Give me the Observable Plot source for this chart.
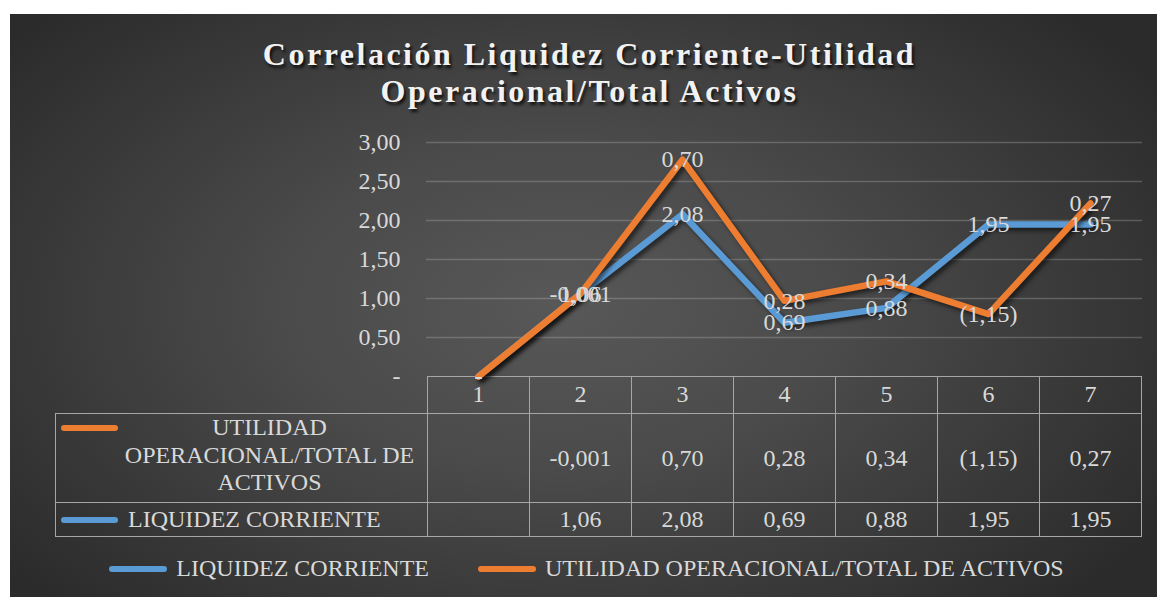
<!DOCTYPE html>
<html><head><meta charset="utf-8">
<script src="https://cdn.jsdelivr.net/npm/d3@7"></script>
<script src="https://cdn.jsdelivr.net/npm/@observablehq/plot@0.6"></script>
<style>
html,body{margin:0;padding:0;background:#fff;}
#card{position:absolute;left:10px;top:14px;width:1147px;height:583px;overflow:hidden;
 background:radial-gradient(ellipse 62% 72% at 48% 50%, #585858 0%, #4a4a4a 40%, #2b2b2b 100%);
 font-family:"Liberation Serif","Times New Roman",serif;color:#d9d9d9;}
#title{position:absolute;left:0;top:22px;width:100%;text-align:center;font-weight:bold;font-size:32px;line-height:37px;letter-spacing:2.5px;color:#f2f2f2;text-shadow:2px 3px 3px rgba(0,0,0,0.75);padding-left:12px;box-sizing:border-box;}
#chart{position:absolute;left:0;top:0;z-index:2;}
#chart svg g[aria-label="line"] path{filter:drop-shadow(3px 3px 2px rgba(0,0,0,0.55));}
#tbl{position:absolute;z-index:1;border-collapse:collapse;table-layout:fixed;font-size:24px;color:#d9d9d9;}
#tbl td{border:1px solid #a6a6a6;padding:0;text-align:center;vertical-align:middle;white-space:nowrap;}
#tbl td.blank{border:none;}
.key{display:inline-block;width:57px;height:6px;border-radius:3px;flex:none;}
#legend{position:absolute;left:0;width:100%;top:541px;display:flex;justify-content:center;gap:49px;font-size:24px;padding-left:6px;box-sizing:border-box;}
#legend .item{display:flex;align-items:center;gap:9px;white-space:nowrap;}
</style></head>
<body>
<div id="card">
  <div id="title">Correlación Liquidez Corriente-Utilidad<br>Operacional/Total Activos</div>
  <div id="chart"></div>
  <table id="tbl"></table>
  <div id="legend"></div>
</div>
<script>
const categories = [1, 2, 3, 4, 5, 6, 7];
const liquidez = [0, 1.06, 2.08, 0.69, 0.88, 1.95, 1.95];
const utilidad = [0, -0.001, 0.70, 0.28, 0.34, -1.15, 0.27];
const yTicks = [0, 0.5, 1, 1.5, 2, 2.5, 3];
const seriesNames = ["LIQUIDEZ CORRIENTE", "UTILIDAD OPERACIONAL/TOTAL DE ACTIVOS"];
const tableNames = ["UTILIDAD OPERACIONAL/TOTAL DE ACTIVOS", "LIQUIDEZ CORRIENTE"];
const colors = ["#5B9BD5", "#ED7D31"];

const comma = s => s.replace(".", ",");
function fmt(v) {
  if (v === 0) return "-";
  if (Math.abs(v) < 0.005) return comma(v.toFixed(3));
  if (v < 0) return "(" + comma((-v).toFixed(2)) + ")";
  return comma(v.toFixed(2));
}
const fmtCell = v => v === 0 ? "" : fmt(v);

// Stacked line: second series is drawn on top of the first
const blueRows = categories.map((c, i) => ({cat: c, y: liquidez[i], label: fmt(liquidez[i])}));
const orangeRows = categories.map((c, i) => ({cat: c, y: liquidez[i] + utilidad[i], label: fmt(utilidad[i])}));

const txt = "#d9d9d9";
const chart = Plot.plot({
  width: 1147, height: 400,
  marginLeft: 416, marginRight: 15, marginTop: 128, marginBottom: 38,
  style: {background: "transparent", fontFamily: "Liberation Serif, Times New Roman, serif", fontSize: "24px", color: txt, overflow: "visible"},
  x: {type: "point", domain: categories, padding: 0.5},
  y: {domain: [0, 3]},
  marks: [
    Plot.gridY(yTicks.filter(t => t > 0), {stroke: "#d9d9d9", strokeOpacity: 0.25, strokeWidth: 1.3}),
    Plot.axisY(yTicks, {tickSize: 0, tickPadding: 26, tickFormat: fmt, fill: txt, fontSize: 24, label: null}),
    Plot.axisX(categories, {tickSize: 0, tickPadding: 8, fill: txt, fontSize: 24, label: null}),
    Plot.line(blueRows, {x: "cat", y: "y", stroke: colors[0], strokeWidth: 6.5, strokeLinecap: "round", strokeLinejoin: "round"}),
    Plot.line(orangeRows, {x: "cat", y: "y", stroke: colors[1], strokeWidth: 6.5, strokeLinecap: "round", strokeLinejoin: "round"}),
    Plot.text(blueRows, {x: "cat", y: "y", text: "label", fill: txt, fontSize: 24}),
    Plot.text(orangeRows, {x: "cat", y: "y", text: "label", fill: txt, fontSize: 24})
  ]
});
document.getElementById("chart").appendChild(chart);

// Data table aligned to the chart's x scale
const xs = chart.scale("x"), ys = chart.scale("y");
const centers = categories.map(c => xs.apply(c));
const step = centers[1] - centers[0];
const firstEdge = centers[0] - step / 2;
const tableLeft = 45;
const tbl = document.getElementById("tbl");
tbl.style.left = tableLeft + "px";
tbl.style.top = ys.apply(0) + "px";
tbl.style.width = (firstEdge + step * categories.length - tableLeft) + "px";
let html = "<colgroup><col style='width:" + (firstEdge - tableLeft) + "px'>" +
  categories.map(() => "<col style='width:" + step + "px'>").join("") + "</colgroup>";
html += "<tr style='height:37px'><td class='blank'></td>" + categories.map(() => "<td></td>").join("") + "</tr>";
html += "<tr style='height:89px'><td style='vertical-align:top;text-align:left'>" +
  "<div style='display:flex;align-items:flex-start'>" +
  "<span class='key' style='background:" + colors[1] + ";margin:11px 0 0 5px'></span>" +
  "<div style='white-space:normal;text-align:center;line-height:27.5px;width:303px'>" + tableNames[0] + "</div></div></td>" +
  utilidad.map(v => "<td>" + fmtCell(v) + "</td>").join("") + "</tr>";
html += "<tr style='height:34px'><td style='text-align:left'>" +
  "<div style='display:flex;align-items:center'>" +
  "<span class='key' style='background:" + colors[0] + ";margin-left:5px'></span>" +
  "<span style='margin-left:10px'>" + tableNames[1] + "</span></div></td>" +
  liquidez.map(v => "<td>" + fmtCell(v) + "</td>").join("") + "</tr>";
tbl.innerHTML = html;

// Legend
document.getElementById("legend").innerHTML = seriesNames.map((n, i) =>
  "<div class='item'><span class='key' style='width:58px;background:" + colors[i] + "'></span><span>" + n + "</span></div>").join("");
</script>
</body></html>
